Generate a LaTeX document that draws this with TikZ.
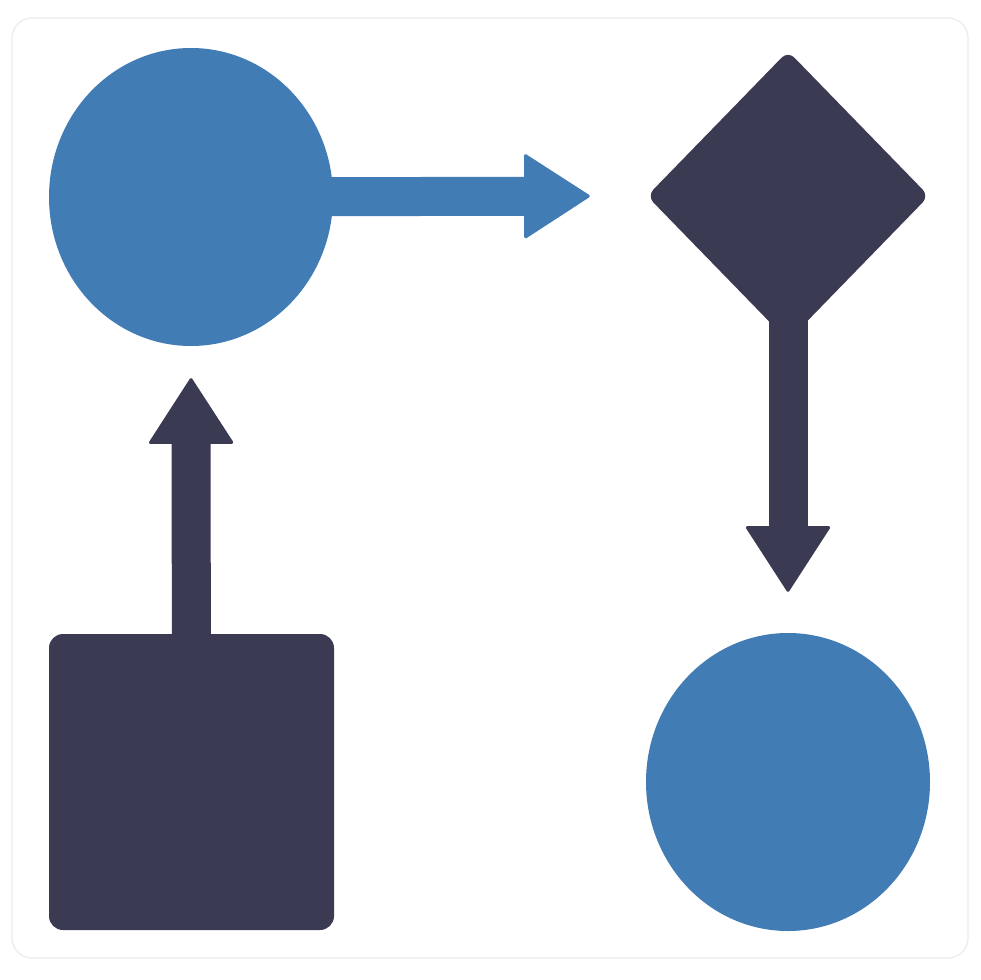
\documentclass[tikz,border=0pt]{standalone}
\usetikzlibrary{shapes.geometric,arrows.meta}
\definecolor{blueA}{RGB}{65,124,181}
\definecolor{darkA}{RGB}{59,58,83}
\definecolor{frameA}{RGB}{236,236,236}
\tikzset{
  bluecirc/.style={ellipse,fill=blueA,inner sep=0pt,minimum width=284pt,minimum height=298pt},
  darkdiam/.style={diamond,fill=darkA,inner sep=0pt,minimum width=282pt,minimum height=290pt,rounded corners=9pt},
  darkbox/.style={rectangle,fill=darkA,inner sep=0pt,minimum width=285pt,minimum height=296pt,rounded corners=14pt},
  fatarrow/.style={line width=39pt,-{Triangle[length=67pt,width=86pt,line width=3pt,round]}}
}
\begin{document}
\begin{tikzpicture}[x=1pt,y=-1pt]
\useasboundingbox (0,0) rectangle (980,980);
\fill[white] (0,0) rectangle (980,980);
\draw[frameA,line width=1.2pt,rounded corners=20pt] (12,18) rectangle (968,958);
\node[bluecirc] (c1) at (191,197) {};
\node[darkdiam] (d) at (788,196) {};
\node[bluecirc] (c2) at (788,782) {};
\node[darkbox] (sq) at (191.5,782) {};
\draw[fatarrow,blueA,shorten >=57pt] (c1.center) -- (d.west);
\draw[fatarrow,darkA,shorten >=41pt] (d.center) -- (c2.north);
\draw[fatarrow,darkA,shorten >=32pt] (sq.center) -- (c1.south);
\end{tikzpicture}
\end{document}
